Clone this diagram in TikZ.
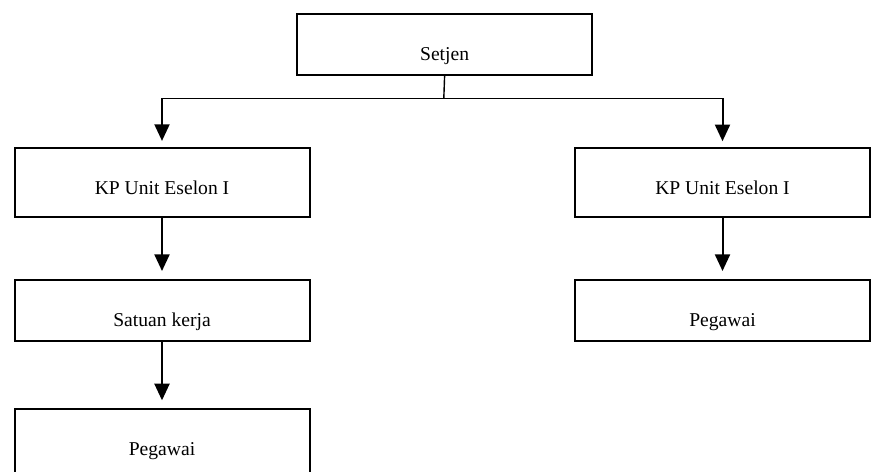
\documentclass[tikz,border=0pt]{standalone}
\usepackage{fontspec}
\setmainfont{Liberation Serif}
\usepackage{tikz}
\usetikzlibrary{arrows.meta}

\begin{document}
\begin{tikzpicture}[x=0.5pt, y=-0.5pt,
                kotak/.style={draw, line width=1pt, minimum width=147.5pt, inner sep=0pt, anchor=north,
                        font=\fontsize{9.8}{11}\selectfont, text height=23.25pt, text depth=#1},
                kotak/.default=7pt,
                garis/.style={line width=0.7pt},
                panah/.style={-{Triangle[length=8.3pt, width=7.5pt]}, line width=1pt, shorten >=#1},
                panah/.default=4pt]
                \useasboundingbox (0,0) rectangle (872,471);
                \clip (0,0) rectangle (872,471);
                
                % Boxes
                \node at (444.6,12.7) [kotak=7.4pt] (setjen) {Setjen};
                \node at (162,146.7) [kotak=11.6pt] (kpkiri) {KP Unit Eselon I};
                \node at (722.5,147) [kotak=11.4pt] (kpkanan) {KP Unit Eselon I};
                \node at (162,279) [kotak=7pt] (satker) {Satuan kerja};
                \node at (722.5,279) [kotak=7pt] (pegkanan) {Pegawai};
                \node at (162,408.3) [kotak=11.6pt] (pegkiri) {Pegawai};
                
                % Branch point under Setjen
                \coordinate (cabang) at (443.8,98.3);
                
                % Arrows
                \draw[garis] (setjen.south) -- (cabang);
                \draw[garis] (cabang -| kpkiri) -- (cabang -| kpkanan);
                \draw[panah=2.9pt] (cabang -| kpkiri) -- (kpkiri);
                \draw[panah=2.9pt] (cabang -| kpkanan) -- (kpkanan);
                \draw[panah] (kpkiri) -- (satker);
                \draw[panah] (kpkanan) -- (pegkanan);
                \draw[panah] (satker) -- (pegkiri);
                
\end{tikzpicture}
\end{document}
